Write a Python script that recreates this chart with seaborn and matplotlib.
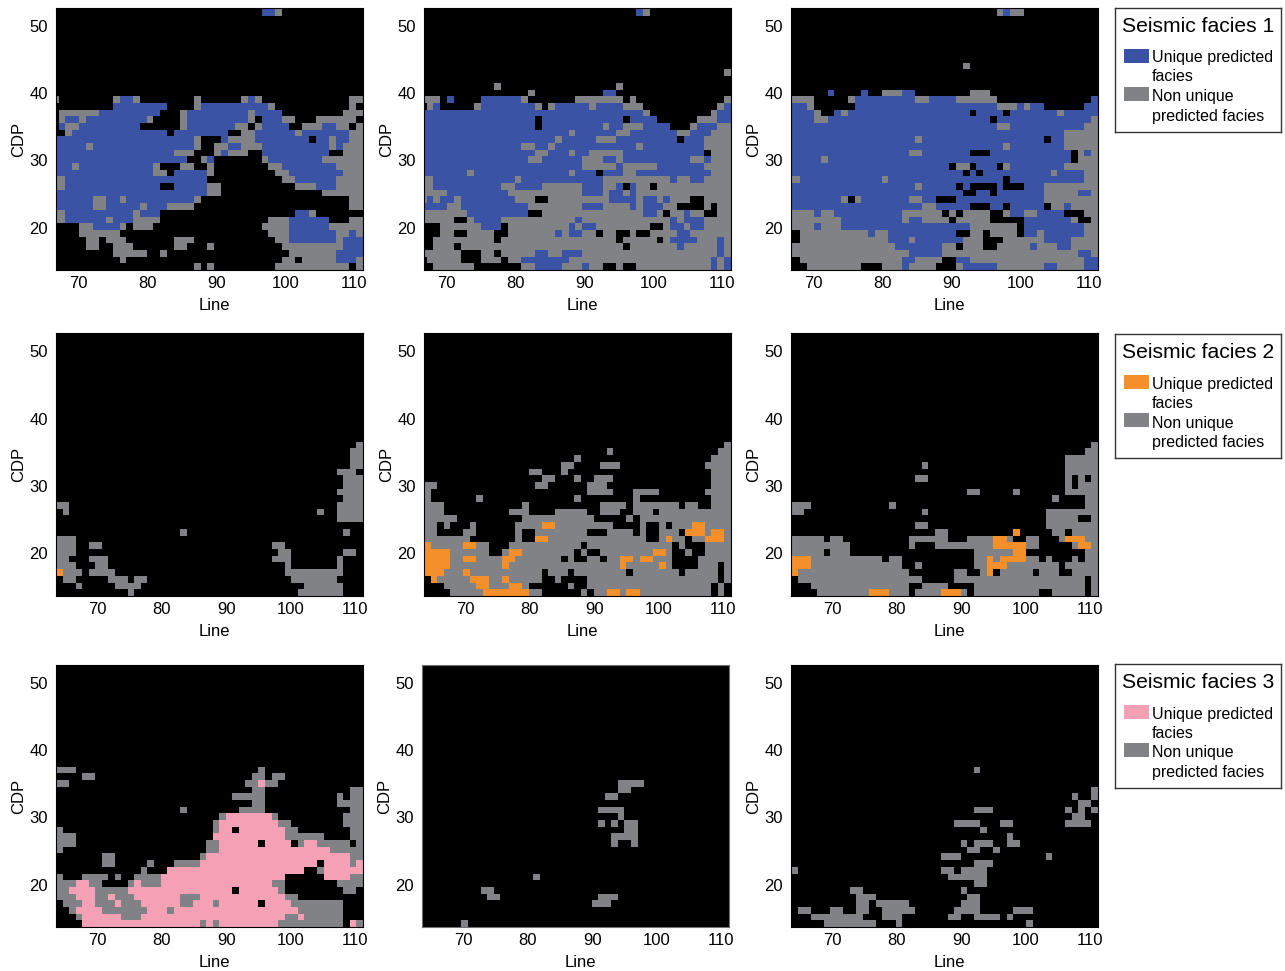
"""
Seismic facies prediction maps: three facies (rows) by three methods (columns).
Each map row lists its non-black cells: g = non unique, f = unique predicted facies.
"""
import re
import numpy as np
import pandas as pd
import matplotlib
matplotlib.use("Agg")
import matplotlib.pyplot as plt
from matplotlib.colors import ListedColormap
from matplotlib.patches import Rectangle
import seaborn as sns

WIDTH, HEIGHT = 1285, 971
N_ROWS = 39

BLACK = "#000000"
GRAY = "#808285"
FACIES_COLORS = ["#3A53A4", "#F58F29", "#F4A0B5"]
FACIES_NAMES = ["Seismic facies 1", "Seismic facies 2", "Seismic facies 3"]
LEGEND_LABELS = ["Unique predicted", "facies", "Non unique", "predicted facies"]

LINE_TICKS = [70, 80, 90, 100, 110]
CDP_TICKS = [20, 30, 40, 50]

F1_A = ["f31-32 g33"] + [""] * 12 + [
    "g0 g9 f10-11 g12 g21 g28 f29 g30 g44-45",
    "f9-16 g21 f22-31 g32 g44",
    "g1-6 f7-15 g19 f20-28 g29 f30-33 g43-45",
    "g1 f2-3 g4 f5-13 g14 g19 f20-28 g29 f31-33 g34-35 g39-44",
    "f1 g2-3 f4-12 g19 f20-26 g27-28 g30 f31-34 g37-39 f40-41 g42-43 g45",
    "g2 f3-16 f18-25 g28-29 f30-35 g36 f37-43 g44-45",
    "f0-20 g21 f25 g26-29 f30-37 f39-40 g41 f42-43 g44-45",
    "f0-4 g5 f6-20 g21 g24-25 f26-27 g28-30 f31-40 g41 f42 g43-45",
    "f0-17 g18-20 g24 f25 g26-28 f31-40 g43-45",
    "f0-19 g22 f23 g31 f32-39 g40-45",
    "f0-2 g3 f4-14 g15 g19-20 g23 g32-33 f34-41 g42-45",
    "f0-14 g15-16 f18-22 g23 g33-34 f35-42 g43-45",
    "g0-1 f2-22 g34-35 f36-41 g42-45",
    "g0-1 f2-15 f18-22 g23-24 g36-38 f39-41 g42-45",
    "f0-22 g23-24 g40-45",
    "f0-5 g6-7 f8-9 g10 f11-20 g21 g44-45",
    "f0-5 g6-7 f8-12 g13 f14-16 g17-20 g44-45",
    "g0-1 f2-11 g12 f13-15 f36-37 g38",
    "g0-1 f2-7 g8 f9-11 g12-15 g32-34 f35-40 g44-45",
    "g4-5 f6-9 g10 g12-14 g31-34 f35-40 g41-45",
    "g4-9 g32-34 f35-41 g42-43 f44 g45",
    "g5-6 g8-10 g18-20 g33-34 f35-41 g42 f43-45",
    "g5-6 g9-11 g18-19 g23 g34-42 f43-45",
    "g9-13 g16 g35-41 f42-45",
    "g10 g34-35 g37-41 f42-44 g45",
    "g21 g23 g33-43 g45",
]

F1_B = ["f32 g33"] + [""] * 8 + [
    "g45",
    "",
    "g11 g29",
    "g16 f27-28",
    "g0-2 f4 f9-14 g15 g23-29 g31 g45",
    "g1 f2 g8 f9-16 g17 g19 f20-24 g25 f26-29 g30-32 g44 f45",
    "f0-32 g33 g43 f44-45",
    "f0-16 f18-29 f31-34 g41-43 f44-45",
    "f0-16 f18-26 g27 f28-29 g30-32 f33-36 g40 f41-43 g44-45",
    "f0-21 g22 f23-28 g29-30 f31-37 g38-39 f40-42 g43-45",
    "f0-19 g20 f21-25 g26-28 f29-37 f39-41 g42-45",
    "f0-14 g15-16 f17-18 g19 f20-31 g32 f33-41 g42-45",
    "f0-16 g17-18 f19-21 g22 f23-24 g25-29 f30-41 g43-45",
    "f0-15 g16-17 f18-23 g24-26 f27-28 g29 f30-39 g40-41 f42 g43-45",
    "f0-23 g24-28 f29 g30-34 f35-41 g42-45",
    "f0-6 g7 f8-21 g22 f23-25 f27-29 g30-31 f32-42 g43-45",
    "g0-1 f2-13 g14 f15-26 g27-36 f37 g38-39 f40-41 g42-45",
    "g0-1 f2-11 g12-13 f14-17 g18-23 f24-26 g27-28 f29 f31 g32-33 g35-45",
    "g0-3 f4-12 g13-23 f24-26 g27 f28-29 g30 f31 g32-45",
    "g0 f1 g2 f3-4 g5 f6-13 g14-16 g19-27 f28-31 g32 f33-34 g35 f36 g37-39 g42-45",
    "f0-3 g4-5 f6-15 g16-23 f24-26 g27-30 f31 g32 f33-35 g36-37 g42 g44-45",
    "g0-6 f7-15 g18-32 f33-34 g35 g37-38 f39 g40-41 g44-45",
    "g0-4 g7 f8-11 g12-22 f23 g24-36 f37 g38 f39-41 g42-45",
    "g3-8 f9-11 g13-21 f22 g23 f24-25 g26-33 g36 f37-38 g39 f40-41 g42-45",
    "g3-4 g7-10 g13-19 f20 g21 f22-23 g24-25 g27-28 g31 g34-37 f38-39 g40-45",
    "g2-10 g12-28 g30-34 g36 f37-40 g41-43 f44 g45",
    "g2-4 g6-29 g31-37 f38 g39-43 f44 g45",
    "g0-5 g9-10 g12-16 f17-18 g19-20 f21-23 g24-43 f44 g45",
    "g1-5 g9-11 g13-14 f15-21 g22-42 f43 g44 f45",
    "g2-7 g15-16 f17-20 g21-23 f24 g25-26 g29 g32-42 f43 g44 f45",
]

F1_C = ["g31 f32 g33-34"] + [""] * 7 + ["g26", "", "", ""] + [
    "f6 f11 g14-16 f17-18 g27-29",
    "g0-3 g9 f10-18 g19-20 f21-24 g25-30 f45",
    "f0-2 g3 f10-30 g31-33 f34 g35 f36-37 f44-45",
    "f0-3 g4 f7 g8 f9-26 f28-31 f33-39 g40 f41-45",
    "f0-3 g4-5 f6-29 f31-44 g45",
    "f0-30 g31-32 f33-43 g44-45",
    "f0-40 g41-45",
    "f0-18 g19 f20-37 f39-40 g41-45",
    "f0-31 g32 f33-40 g41-45",
    "f0-17 g18-19 f20-26 f30-41 g43 f44 g45",
    "f0-4 g5 f6-41 g43-45",
    "f0-23 g25-26 f28-30 g32 f33-40 g41-45",
    "f0-25 f27 f29-38 g39 f40-43 g44-45",
    "g0-1 f2-13 g14 f15-31 f33-43 g44-45",
    "f0-18 g19 f20-24 f26 f31 f35-37 g38-45",
    "f0-25 f28-29 f31-37 g38-42 f43-44 g45",
    "f0-7 g8 g10 f11-17 g18-19 f20-21 f25-37 g38-45",
    "f0-19 g20-21 f22-26 f30-31 f33-37 g39-40 f41 g42-45",
    "g0-3 f4 g5-6 f7-16 g17-22 g24 g26-29 g32 f33-34 g35-36 f37-40 g44-45",
    "g0-7 f8-16 g17 f18-19 g20-23 g25-29 f35-41 g42 g45",
    "g0-3 f4 g5-7 f8-26 g27-33 f35-43 g44-45",
    "g2-11 f12 g13-14 f15-24 g27-28 g30-33 f35-36 g37 f38-42 f43 g44-45",
    "g2-14 f15-17 g18 f19-25 g26-28 g32-37 f38-41 g42-45",
    "g0-15 f16-22 g23-24 g26-28 g31-35 f36 g37-39 f40-41 g42-45",
    "g0-17 f18-22 g23-42 f43-44 g45",
    "g2-16 f17-18 g19-22 f25-26 g27-43 f44-45",
    "g3-10 g14-16 f17 g18-21 g25 f26-30 g31-37 f38-39 g40-43 f44-45",
]

F2_A = [""] * 16 + [
    "g46",
    "g45-46",
    "g45-46",
    "g45-46",
    "g43-45",
    "g44-46",
    "g44-46",
    "g43-46",
    "g44-46",
    "g0-1 g43-46",
    "g1 g40 g43-46",
    "g43-46",
    "",
    "g19 g44",
    "g0-2",
    "g0-2 g5-6 g33-34",
    "g0-2 g34-35 g44-45",
    "g0-1 g5-7 g33-35 g43",
    "g0-2 g6-7 g35 g43",
    "f0 g1-3 g5-8 g35-43",
    "g1-2 g8-10 g12-13 g36-42",
    "g3 g9-12 g38-43",
    "g11 g37-43",
]

F2_B = [""] * 16 + [
    "g46",
    "g28 g45-46",
    "g23 g44-46",
    "g21-22 g27-29 g43-46",
    "g16-17 g21 g44-46",
    "g18-19 g23 g26-28 g44-46",
    "g0-1 g17-18 g25-27 g44-46",
    "g0 g25-28 g32-35 g43-46",
    "g0 g8 g23 g32 g44-46",
    "g0-2 g15 g27-30 g32-38 g40-41 g44-46",
    "g0-2 g13-15 g20-24 g27-29 g32-34 g36-46",
    "g0-4 g15-25 g31 g33-46",
    "g0-1 g3 g7 g14-17 f18-19 g20-28 g33 g36 g38-40 f41-42 g43-46",
    "g0-1 g6-7 g14 g17-24 g28-31 g33 g36-38 f40-42 g43 f44-45 g46",
    "g0-6 g14 f17-18 g19-33 g36 f37 g38-39 g41-42 f43-45 g46",
    "f0 g1-5 f6-7 g8-9 g13-23 g25-37 g39 g43-46",
    "f0-3 g4-9 g12 f13-14 g15-22 g24 g27-34 f35-36 g37 g40 g43-46",
    "f0-3 g4-5 f6-7 g8-11 f12-13 g14-20 g22 g25-26 g28-29 f30-31 g32 f33-34 g35-37 g42-46",
    "f0-3 g4-11 f12 g13-29 f30 g31-35 f36 g37 g42-44 g46",
    "f0-2 g3-5 f6 g7-17 g19-21 g23-30 g32-38 g40-44 g46",
    "f1 g2-6 f7-9 g10-11 f12 g13-17 g20 g25-44 g46",
    "g3-7 f8-9 g10-12 f13-14 g15 g22 g25-43 g45",
    "g4-8 f9-15 g16-17 g24 g26-27 f28-29 g30 f31-32 g33-43 g45",
]

F2_C = [""] * 16 + [
    "g46",
    "g45-46",
    "g42-46",
    "g20 g42-46",
    "g42-46",
    "g19-20 g42 g44 g46",
    "g42 g44-46",
    "g27-28 g34 g42-46",
    "g40 g45-46",
    "g0-2 g15 g45-46",
    "g0-1 g20 g39-46",
    "g39-43 g46",
    "g19-20 g39-46",
    "g22-23 f34 g40-41 g43-46",
    "g0-4 g6-7 g18-23 g27-30 f31-32 g33 g36-37 g41 f42-44 g45-46",
    "g0-8 g18 g22-25 g26-30 f31-35 g36-37 g43 f44-45 g46",
    "g0-4 g6-8 g28-33 f34-35 g45-46",
    "f0-2 g3-13 g15-16 g28-29 f30 g31 f32-35 g36-37 g39 g43 g45-46",
    "f0-2 g3-16 g19 g28-29 f30-32 g33-40 g42-46",
    "f0 g1-17 g25-26 g29 f30 g32-36 g38-40 g43-46",
    "g1-19 g25-44 g46",
    "g3-17 g20-23 g28-44 g46",
    "g4-11 f12-14 g15-17 g19-22 f23-25 g26 g28-37 g40-44 g46",
]

F3_A = [""] * 15 + [
    "g0-2 g31",
    "g4-5 g30-31 g33-34",
    "g0-1 g29-30 f31 g32-33",
    "g30-31 g45-46",
    "g27-31 g43 g45-46",
    "g30-31 g43-46",
    "g19 g28-31 g45-46",
    "g25 f26-32 g33 g44-46",
    "g24 f25-33 g34-35 g44-46",
    "g0 g24 f25-26 f28-34 g35-36 g45-46",
    "g0-2 f24-34 g35-40 g45-46",
    "g0-2 g23-24 f25-30 f32-35 g37 f38-39 g40-44 g46",
    "g0 g23-24 f25-41 g42-46",
    "g7-8 g22 f23-44 g45-46",
    "g7-8 g14 g18-21 f22-39 f41-44 g45 f46",
    "g13 f17-37 g40 f41-46",
    "g0 g4-7 g9 g12-15 f16-34 f41-44 g45-46",
    "g0-2 f3-4 g5-6 g11 f12 g13-15 f16-32 g33-34 g43-46",
    "g0-1 f2-5 g6-10 f11-26 f28-33 g34 g44-45",
    "g0-2 f3-5 g6-7 f8 g9-11 f12-18 g19-21 f22-34 g35-36",
    "g1-3 f4-5 g6-8 f9 g10-12 f13-18 g19-20 f21-23 g24 f25-30 f32-35 g36-41 g42-43",
    "g2 f3-6 g7-13 f14-16 g17 f18-36 g37-41 g42-43",
    "g3 f4-9 g10-12 f13-34 g35-36 f37 g38-43",
    "f4-11 f12-21 g22 f23 g24 f25-33 g34-43 f45 g46",
]

F3_B = [""] * 17 + [
    "g30-33",
    "g30-31",
    "g28-29",
    "",
    "g27-30",
    "g30",
    "g27 g29 g31-32",
    "g31-32",
    "g29-32",
    "g29 g32",
    "", "", "", "",
    "g17",
    "",
    "g9-10",
    "g10-11 g27-29",
    "g26-28",
    "", "",
    "g6",
]

F3_C = [""] * 15 + [
    "g28",
    "", "",
    "g46",
    "g43 g46",
    "g44-45",
    "g28-30 g42 g44 g46",
    "g43-44",
    "g25-28 g32-33 g42-45",
    "g29",
    "g33",
    "g26 g28-30 g33-34",
    "g27-28 g31",
    "g23-25 g39",
    "g28-30",
    "g0 g23-24 g26-29",
    "g24-29",
    "g28-29",
    "g9-10 g26",
    "g10-12 g27-28",
    "g10-11 g13-17 g26-28",
    "g1-2 g6-7 g10-11 g14-18 g25-28 g34-36",
    "g3-10 g14-16 g24-25 g28-31 g33",
    "g5-12 g16 g36",
]

# axes boxes in reference pixels: left, top, right, bottom
COL_LEFT = [56, 424, 791]
ROW_BOX = [(8, 270), (333, 596), (665, 927)]
AX_WIDTH = 307
LEGEND_TOP = [8, 334, 664]


def decode_rows(rows, n_cols):
    grid = np.zeros((N_ROWS, n_cols), dtype=int)
    for k, row in enumerate(rows):
        for kind, start, stop in re.findall(r"([gf])(\d+)(?:-(\d+))?", row):
            stop = stop or start
            grid[k, int(start):int(stop) + 1] = 1 if kind == "g" else 2
    return pd.DataFrame(grid)


def add_px_axes(fig, left, top, right, bottom):
    return fig.add_axes([left / WIDTH, 1 - bottom / HEIGHT,
                         (right - left) / WIDTH, (bottom - top) / HEIGHT])


def draw_map(ax, rows, color, first_row, faint=False):
    n_cols = 46 if first_row else 47
    df = decode_rows(rows, n_cols)
    cmap = ListedColormap([BLACK, GRAY, color])
    sns.heatmap(df, cmap=cmap, vmin=0, vmax=2, cbar=False, ax=ax,
                xticklabels=False, yticklabels=False)
    ax.set_facecolor(BLACK)
    # the first row of maps has a coarser Line axis
    if first_row:
        ax.set_xlim(0.6, 46)
        ax.set_xticks([3.91 + 1.0205 * (v - 70) for v in LINE_TICKS])
    else:
        ax.set_xlim(0, 47)
        ax.set_xticks([6.36 + 0.985 * (v - 70) for v in LINE_TICKS])
    ax.set_ylim(39, -0.2)
    ax.set_yticks([2.5 + 1.005 * (50 - v) for v in CDP_TICKS])
    ax.set_xticklabels(LINE_TICKS)
    ax.set_yticklabels(CDP_TICKS)
    ax.tick_params(direction="in", length=4, width=0.8, color="black",
                   labelsize=12, left=True, bottom=True)
    ax.tick_params(axis="x", pad=4)
    ax.tick_params(axis="y", pad=6)
    ax.set_xlabel("Line", fontsize=12, labelpad=5, x=0.516)
    ax.set_ylabel("CDP", fontsize=12, labelpad=2)
    for spine in ax.spines.values():
        spine.set_visible(True)
        spine.set_color("#707070" if faint else "black")
        spine.set_linewidth(0.8)


def draw_legend(fig, top, title, color):
    ax = add_px_axes(fig, 1115, top, 1281, top + 124)
    ax.set_xlim(0, 166)
    ax.set_ylim(124, 0)
    ax.set_xticks([])
    ax.set_yticks([])
    for spine in ax.spines.values():
        spine.set_visible(True)
        spine.set_color("#333333")
        spine.set_linewidth(1.0)
    ax.text(7, 19, title, fontsize=15.2, va="center")
    ax.add_patch(Rectangle((9, 41), 25, 14, color=color, lw=0))
    ax.add_patch(Rectangle((9, 79), 25, 14, color=GRAY, lw=0))
    for y, label in zip([50, 69, 89, 108], LEGEND_LABELS):
        ax.text(37, y, label, fontsize=11.5, va="center")


sns.set_theme(style="white", rc={"text.color": "black", "axes.labelcolor": "black",
                                 "xtick.color": "black", "ytick.color": "black"})
plt.rcParams["font.family"] = ["Liberation Sans", "DejaVu Sans"]

fig = plt.figure(figsize=(WIDTH / 100, HEIGHT / 100), dpi=100)

panels = [[F1_A, F1_B, F1_C], [F2_A, F2_B, F2_C], [F3_A, F3_B, F3_C]]
for r, row_panels in enumerate(panels):
    top, bottom = ROW_BOX[r]
    for c, rows in enumerate(row_panels):
        left = COL_LEFT[c]
        if r == 2 and c == 1:
            left -= 2
        ax = add_px_axes(fig, left, top, left + AX_WIDTH, bottom)
        draw_map(ax, rows, FACIES_COLORS[r], r == 0, faint=(r == 2 and c == 1))
    draw_legend(fig, LEGEND_TOP[r], FACIES_NAMES[r], FACIES_COLORS[r])

fig.savefig("out.png", dpi=100)
